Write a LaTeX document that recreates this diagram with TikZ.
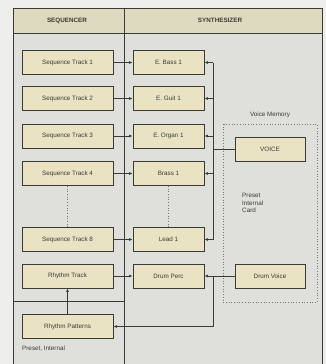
\documentclass[tikz,border=0pt]{standalone}
\usepackage{fontspec}
\setmainfont{Liberation Sans}
\usetikzlibrary{arrows.meta}
\definecolor{pagebg}{HTML}{EEEEEC}
\definecolor{bodybg}{HTML}{DFE0DC}
\definecolor{headbg}{HTML}{DEDAC0}
\definecolor{boxbg}{HTML}{E9E3C3}
\definecolor{ink}{HTML}{3A3A36}
\tikzset{
  box/.style={draw=ink, line width=0.9pt, fill=boxbg, minimum height=24pt, inner sep=0pt, font=\fontsize{6.3}{7}\selectfont, text=ink},
  seqbox/.style={box, minimum width=91pt},
  synbox/.style={box, minimum width=71pt},
  voxbox/.style={box, minimum width=70pt},
  conn/.style={draw=ink, line width=0.7pt},
  arr/.style={conn, -{Latex[length=3.5pt,width=3pt]}},
  lbl/.style={font=\fontsize{6.3}{7.5}\selectfont, text=ink, inner sep=0pt},
  head/.style={font=\bfseries\fontsize{6.3}{7}\selectfont, text=ink, inner sep=0pt},
  dots/.style={draw=ink!70, line width=0.7pt, dotted}
}
\begin{document}
\begin{tikzpicture}[x=1pt,y=-1pt]
\useasboundingbox (0,0) rectangle (326,364);
\fill[pagebg] (0,0) rectangle (326,364);
% frame
\fill[bodybg] (13,8) rectangle (322,370);
\fill[headbg] (13,8) rectangle (322,33);
\draw[ink, line width=0.9pt] (13,370) -- (13,8) -- (322,8) -- (322,370);
\draw[ink, line width=0.9pt] (13,33) -- (322,33);
\draw[ink, line width=0.9pt] (124,8) -- (124,370);
\draw[ink, line width=0.9pt] (13,301) -- (124,301);
\node[head] (hseq) at (67,20.5) {SEQUENCER};
\node[head] (hsyn) at (220,20.5) {SYNTHESIZER};
% voice memory area
\draw[dots] (223,124) rectangle (317,302);
\node[lbl] (vm) at (270,115) {Voice Memory};
\node[lbl, anchor=north west, align=left] (pic) at (242,193) {Preset\\Internal\\Card};
% sequencer
\node[seqbox] (s1) at (67.5,62.5) {Sequence Track 1};
\node[seqbox] (s2) at (67.5,98.5) {Sequence Track 2};
\node[seqbox] (s3) at (67.5,136) {Sequence Track 3};
\node[seqbox] (s4) at (67.5,173.5) {Sequence Track 4};
\node[seqbox] (s8) at (67.5,239.5) {Sequence Track 8};
\node[seqbox] (rt) at (67.5,276) {Rhythm Track};
\node[seqbox] (rp) at (67.5,326.5) {Rhythm Patterns};
\node[lbl, anchor=west] (pi) at (22,349) {Preset, Internal};
% synthesizer
\node[synbox] (b1) at (168.5,62.5) {E. Bass 1};
\node[synbox] (b2) at (168.5,98.5) {E. Guit 1};
\node[synbox] (b3) at (168.5,136) {E. Organ 1};
\node[synbox] (b4) at (168.5,173.5) {Brass 1};
\node[synbox] (b8) at (168.5,239.5) {Lead 1};
\node[synbox] (dp) at (168.5,276) {Drum Perc};
\node[voxbox] (vo) at (270,149) {VOICE};
\node[voxbox] (dv) at (270,276) {Drum Voice};
\coordinate (bt) at (213,62.5);
\coordinate (bb) at (213,239.5);
% connectors
\foreach \a/\b in {s1/b1,s2/b2,s3/b3,s4/b4,s8/b8,rt/dp}{\draw[arr] (\a) -- (\b);}
\draw[dots] (s4) -- (s8);
\draw[dots] (b4) -- (b8);
\draw[conn] (bt) -- (bb);
\foreach \b in {b1,b2,b3,b4,b8}{\draw[arr] (\b.east -| bt) -- (\b.east);}
\draw[conn] (vo.west) -- (vo.west -| bt);
\draw[arr] (dv) -- (dp);
\draw[arr] (dp.east -| bt) |- (rp.east);
\draw[arr] (rp) -- (rt);
\end{tikzpicture}
\end{document}
